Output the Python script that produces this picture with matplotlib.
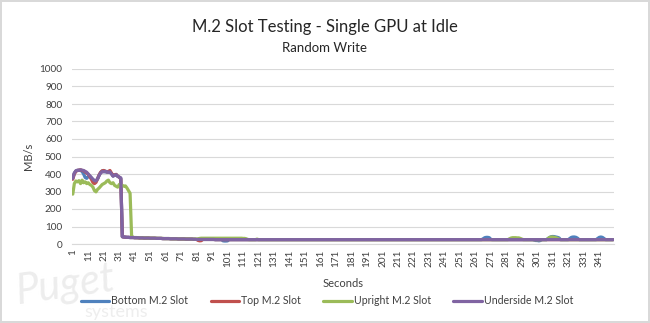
import matplotlib
matplotlib.use("Agg")
import matplotlib.pyplot as plt

# Category axis: one sample per second
seconds = list(range(1, 351))
x_tick_values = list(range(1, 342, 10))
x_tick_labels = [str(s) for s in x_tick_values]
y_ticks = [0, 100, 200, 300, 400, 500, 600, 700, 800, 900, 1000]

series_names = ["Bottom M.2 Slot", "Top M.2 Slot", "Upright M.2 Slot", "Underside M.2 Slot"]

bottom_slot = [
    378, 405, 418, 420, 422, 420, 415, 400, 380, 375, 385, 388, 378, 368, 362, 362, 372, 392, 408, 418, 420, 412, 410, 410, 412,
    402, 388, 392, 396, 386, 382, 375, 41, 40, 39, 38, 38, 37, 37, 37, 36, 36, 36, 35, 35, 35, 34, 34, 34, 34,
    33, 33, 33, 33, 32, 32, 32, 32, 31, 31, 31, 31, 31, 30, 30, 30, 30, 30, 29, 29, 29, 29, 29, 28, 28,
    28, 28, 28, 27, 27, 26, 26, 26, 26, 26, 26, 26, 26, 26, 26, 26, 26, 25, 25, 25, 25, 25, 18, 17, 17,
    18, 25, 25, 25, 25, 25, 25, 25, 25, 25, 25, 25, 25, 25, 25, 25, 25, 25, 25, 25, 25, 25, 25, 25, 25,
    25, 25, 25, 25, 25, 25, 25, 25, 25, 25, 25, 25, 25, 25, 25, 25, 25, 25, 25, 25, 25, 25, 25, 25, 25,
    25, 25, 25, 25, 25, 25, 25, 25, 25, 25, 25, 25, 25, 25, 25, 25, 25, 25, 25, 25, 25, 25, 25, 25, 25,
    25, 25, 25, 25, 25, 25, 25, 25, 25, 25, 25, 25, 25, 25, 25, 25, 25, 25, 25, 25, 25, 25, 25, 25, 25,
    25, 25, 25, 25, 25, 25, 25, 25, 25, 25, 25, 25, 25, 25, 25, 25, 25, 25, 25, 25, 25, 25, 25, 25, 25,
    25, 25, 25, 25, 25, 25, 25, 25, 25, 25, 25, 25, 25, 25, 25, 25, 25, 25, 25, 25, 25, 25, 25, 25, 25,
    25, 25, 25, 25, 25, 25, 25, 25, 25, 25, 25, 25, 25, 25, 25, 30, 36, 38, 38, 36, 26, 25, 25, 25, 25,
    25, 25, 25, 25, 25, 25, 25, 25, 25, 25, 25, 25, 25, 25, 25, 25, 25, 25, 25, 25, 25, 25, 25, 22, 20,
    20, 18, 20, 25, 25, 25, 25, 32, 38, 42, 43, 42, 40, 38, 35, 25, 25, 25, 25, 25, 25, 32, 38, 40, 40,
    38, 33, 25, 25, 25, 25, 25, 25, 25, 25, 25, 25, 25, 25, 32, 38, 40, 38, 32, 25, 25, 25, 25, 25, 25,
]

top_slot = [
    370, 400, 415, 420, 422, 424, 420, 418, 412, 405, 398, 385, 370, 352, 345, 352, 372, 395, 410, 418, 420, 416, 412, 415, 420,
    405, 390, 395, 398, 388, 382, 372, 42, 40, 39, 38, 38, 37, 37, 37, 36, 36, 36, 35, 35, 35, 34, 34, 34, 34,
    33, 33, 33, 33, 32, 32, 32, 32, 31, 31, 31, 31, 31, 30, 30, 30, 30, 30, 29, 29, 29, 29, 29, 28, 28,
    28, 28, 28, 27, 27, 26, 20, 18, 19, 26, 26, 26, 26, 26, 26, 26, 26, 25, 25, 25, 25, 25, 25, 25, 25,
    25, 25, 25, 25, 25, 25, 25, 25, 25, 25, 25, 25, 25, 25, 25, 25, 25, 25, 25, 25, 25, 25, 25, 25, 25,
    25, 25, 25, 25, 25, 25, 25, 25, 25, 25, 25, 25, 25, 25, 25, 25, 25, 25, 25, 25, 25, 25, 25, 25, 25,
    25, 25, 25, 25, 25, 25, 25, 25, 25, 25, 25, 25, 25, 25, 25, 25, 25, 25, 25, 25, 25, 25, 25, 25, 25,
    25, 25, 25, 25, 25, 25, 25, 25, 25, 25, 25, 25, 25, 25, 25, 25, 25, 25, 25, 25, 25, 25, 25, 25, 25,
    25, 25, 25, 25, 25, 25, 25, 25, 25, 25, 25, 25, 25, 25, 25, 25, 25, 25, 25, 25, 25, 25, 25, 25, 25,
    25, 25, 25, 25, 25, 25, 25, 25, 25, 25, 25, 25, 25, 25, 25, 25, 25, 25, 25, 25, 25, 25, 25, 25, 25,
    25, 25, 25, 25, 25, 25, 25, 25, 25, 25, 25, 25, 25, 25, 25, 25, 25, 25, 25, 25, 25, 25, 25, 25, 25,
    25, 25, 25, 25, 25, 25, 25, 25, 25, 25, 25, 25, 25, 25, 25, 25, 25, 25, 25, 25, 25, 25, 25, 25, 25,
    25, 25, 25, 25, 25, 25, 25, 25, 25, 25, 25, 25, 25, 25, 25, 25, 25, 25, 25, 25, 25, 25, 25, 25, 25,
    25, 25, 25, 25, 25, 25, 25, 25, 25, 25, 25, 25, 25, 25, 25, 25, 25, 25, 25, 25, 25, 25, 25, 25, 25,
]

upright_slot = [
    285, 345, 360, 355, 362, 345, 365, 350, 355, 345, 350, 340, 335, 325, 305, 298, 312, 320, 330, 340, 345, 350, 360, 365, 350,
    345, 350, 335, 330, 325, 340, 330, 335, 330, 332, 320, 305, 290, 45, 38, 37, 37, 36, 36, 36, 35, 35, 35, 34, 34,
    33, 33, 33, 33, 33, 32, 32, 32, 32, 31, 31, 31, 31, 31, 30, 30, 30, 30, 30, 30, 29, 29, 29, 29, 29,
    29, 28, 28, 28, 28, 28, 30, 32, 33, 33, 33, 33, 33, 33, 33, 33, 33, 33, 33, 33, 33, 33, 33, 33, 33,
    33, 33, 33, 33, 33, 33, 33, 33, 33, 33, 32, 32, 30, 26, 25, 25, 25, 25, 25, 28, 25, 25, 25, 25, 25,
    25, 25, 25, 25, 25, 25, 25, 25, 25, 25, 25, 25, 25, 25, 25, 25, 25, 25, 25, 25, 25, 25, 25, 25, 25,
    25, 25, 25, 25, 25, 25, 25, 25, 25, 25, 25, 25, 25, 25, 25, 25, 25, 25, 25, 25, 25, 25, 25, 25, 25,
    25, 25, 25, 25, 25, 25, 25, 25, 25, 25, 25, 25, 25, 25, 25, 25, 25, 25, 25, 25, 25, 25, 25, 25, 25,
    25, 25, 25, 25, 25, 25, 25, 25, 25, 25, 25, 25, 25, 25, 25, 25, 25, 25, 25, 25, 25, 25, 25, 25, 25,
    25, 25, 25, 25, 25, 25, 25, 25, 25, 25, 25, 25, 25, 25, 25, 25, 25, 25, 25, 25, 25, 25, 25, 25, 25,
    25, 25, 25, 25, 25, 25, 25, 25, 25, 25, 25, 25, 25, 25, 25, 25, 25, 25, 25, 25, 25, 25, 25, 25, 25,
    25, 25, 25, 25, 25, 25, 25, 30, 34, 36, 36, 36, 35, 35, 32, 28, 25, 25, 25, 25, 25, 25, 25, 25, 25,
    25, 25, 25, 25, 25, 25, 25, 32, 38, 40, 40, 38, 36, 32, 28, 25, 25, 25, 25, 25, 25, 25, 25, 25, 25,
    25, 25, 25, 25, 25, 25, 25, 25, 25, 25, 25, 25, 25, 25, 25, 25, 25, 25, 25, 25, 25, 25, 25, 25, 25,
]

underside_slot = [
    375, 405, 418, 422, 420, 424, 422, 420, 415, 410, 400, 390, 380, 370, 362, 360, 372, 392, 406, 414, 412, 416, 413, 410, 412,
    400, 388, 394, 396, 388, 382, 378, 42, 40, 39, 38, 38, 37, 37, 37, 36, 36, 36, 35, 35, 35, 34, 34, 34, 34,
    33, 33, 33, 33, 32, 32, 32, 32, 31, 31, 31, 31, 31, 30, 30, 30, 30, 30, 29, 29, 29, 29, 29, 28, 28,
    28, 28, 28, 27, 27, 26, 26, 26, 26, 26, 26, 26, 26, 26, 26, 26, 26, 25, 25, 25, 25, 25, 25, 25, 25,
    25, 25, 25, 25, 25, 25, 25, 25, 25, 25, 25, 25, 25, 25, 25, 25, 25, 25, 25, 25, 25, 25, 25, 25, 25,
    25, 25, 25, 25, 25, 25, 25, 25, 25, 25, 25, 25, 25, 25, 25, 25, 25, 25, 25, 25, 25, 25, 25, 25, 25,
    25, 25, 25, 25, 25, 25, 25, 25, 25, 25, 25, 25, 25, 25, 25, 25, 25, 25, 25, 25, 25, 25, 25, 25, 25,
    25, 25, 25, 25, 25, 25, 25, 25, 25, 25, 25, 25, 25, 25, 25, 25, 25, 25, 25, 25, 25, 25, 25, 25, 25,
    25, 25, 25, 25, 25, 25, 25, 25, 25, 25, 25, 25, 25, 25, 25, 25, 25, 25, 25, 25, 25, 25, 25, 25, 25,
    25, 25, 25, 25, 25, 25, 25, 25, 25, 25, 25, 25, 25, 25, 25, 25, 25, 25, 25, 25, 25, 25, 25, 25, 25,
    25, 25, 25, 25, 25, 25, 25, 25, 25, 25, 25, 25, 25, 25, 25, 25, 25, 25, 25, 25, 25, 25, 25, 25, 25,
    25, 25, 25, 25, 25, 25, 25, 25, 25, 25, 25, 25, 25, 25, 25, 25, 25, 25, 25, 25, 25, 25, 25, 25, 25,
    25, 25, 25, 25, 25, 25, 25, 25, 25, 25, 25, 25, 25, 25, 25, 25, 25, 25, 25, 25, 25, 25, 25, 25, 25,
    25, 25, 25, 25, 25, 25, 25, 25, 25, 25, 25, 25, 25, 25, 25, 25, 25, 25, 25, 25, 25, 25, 25, 25, 25,
]

series_values = [bottom_slot, top_slot, upright_slot, underside_slot]
series_colors = ["#4F81BD", "#C0504D", "#9BBB59", "#8064A2"]

plt.rcParams["font.family"] = ["Lato", "DejaVu Sans"]
TEXT = "#404040"

W, H = 650, 323
fig = plt.figure(figsize=(W / 100, H / 100), dpi=100)
fig.patch.set_facecolor("white")
fig.patch.set_edgecolor("#D9D9D9")
fig.patch.set_linewidth(1.5)

# Faint company watermark in the lower-left corner
fig.text(14 / W, 1 - 285 / H, "Puget", fontsize=30, style="italic", color="#EDEDED",
         ha="left", va="center", zorder=0, rotation=8)
fig.text(84 / W, 1 - 312 / H, "systems", fontsize=13, color="#EEEEEE",
         ha="left", va="center", zorder=0)

ax = fig.add_axes([72 / W, 1 - 244 / H, 542 / W, 175 / H])
ax.set_facecolor("none")

for vals, color, name in zip(series_values, series_colors, series_names):
    ax.plot(seconds, vals, color=color, lw=2.3, solid_joinstyle="round",
            solid_capstyle="round", label=name)

ax.set_xlim(0.5, 350.5)
ax.set_ylim(0, 1000)
ax.set_yticks(y_ticks)
ax.set_yticklabels([str(v) for v in y_ticks])
ax.set_xticks(x_tick_values)
ax.set_xticklabels(x_tick_labels, rotation=90)
ax.grid(axis="y", color="#D9D9D9", lw=0.8)
ax.set_axisbelow(True)
for side in ("top", "right", "left"):
    ax.spines[side].set_visible(False)
ax.spines["bottom"].set_color("#D9D9D9")
ax.spines["bottom"].set_linewidth(0.8)
ax.tick_params(axis="both", length=0, labelsize=7.2, colors=TEXT)
ax.tick_params(axis="y", pad=7)
ax.tick_params(axis="x", pad=4)

ax.set_xlabel("Seconds", fontsize=8, color=TEXT, labelpad=8)
ax.set_ylabel("MB/s", fontsize=8, color=TEXT, labelpad=4)

fig.text(0.5, 1 - 27 / H, "M.2 Slot Testing - Single GPU at Idle", fontsize=12,
         color="#262626", ha="center", va="center")
fig.text(0.5, 1 - 48.5 / H, "Random Write", fontsize=9.5, color="#262626",
         ha="center", va="center")

fig.legend(loc="center", bbox_to_anchor=(327 / W, 1 - 301 / H), ncol=4,
           frameon=False, fontsize=7.6, handlelength=2.7, handletextpad=0.2,
           columnspacing=2.1, labelcolor=TEXT)

fig.savefig("out.png", dpi=100)
